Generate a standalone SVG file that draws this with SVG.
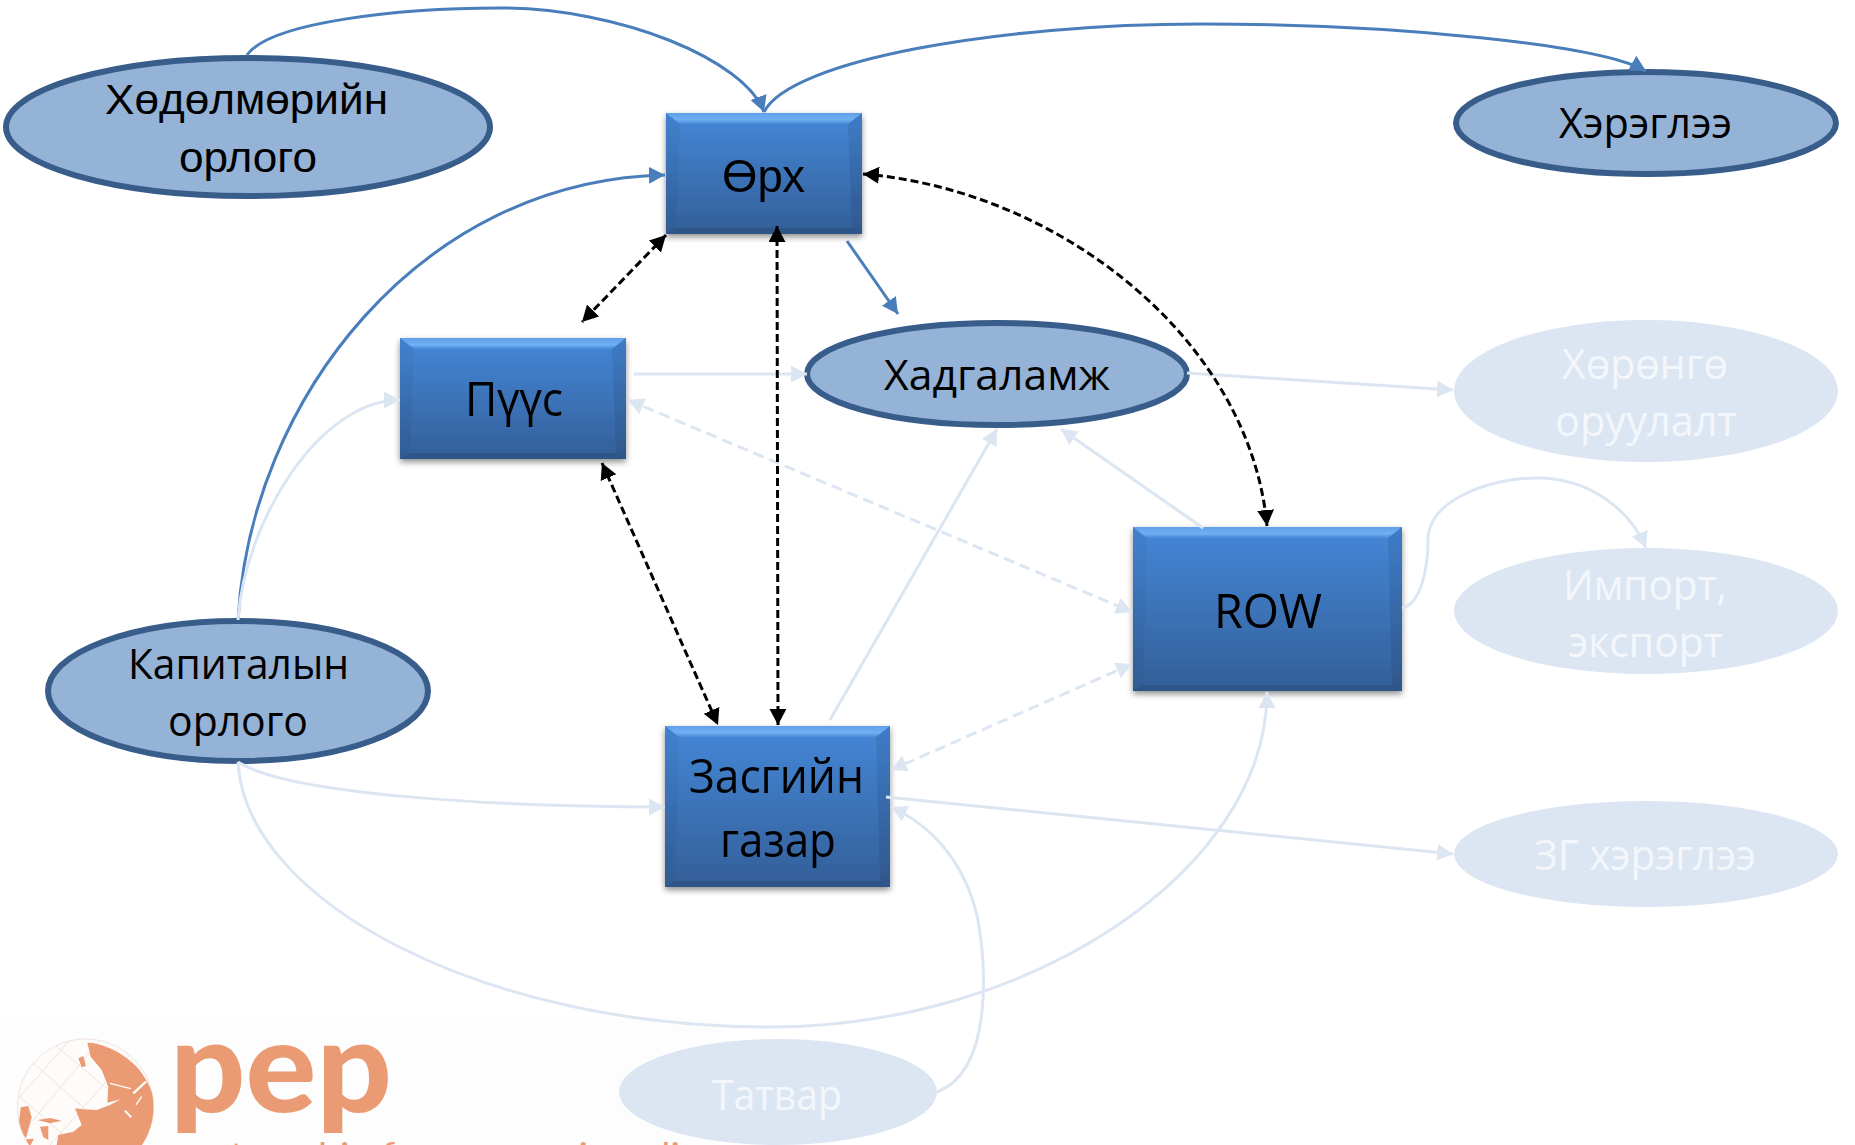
<svg xmlns="http://www.w3.org/2000/svg" width="1855" height="1145" viewBox="0 0 1855 1145">
<style>
.t{font-family:"Open Sans","Noto Sans",sans-serif;font-size:42px;fill:#000}
.b{font-size:47px}
.a{font-family:"Liberation Sans",Arial,sans-serif}
.p{fill:#F3F6FB}
.e{fill:#95B3D7;stroke:#385D8A;stroke-width:6}
.f{fill:#DCE6F2}
.top{fill:url(#gt)}
.bot{fill:#2E5587}
.l{fill:#000;fill-opacity:.04}
.r{fill:#000;fill-opacity:.08}
.d{stroke-dasharray:11 6}
</style>
<defs>
<linearGradient id="g" x1="0" y1="0" x2="0" y2="1"><stop offset="0" stop-color="#4587D8"/><stop offset="1" stop-color="#335F98"/></linearGradient>
<linearGradient id="gt" x1="0" y1="0" x2="0" y2="1"><stop offset="0" stop-color="#5FA0EA"/><stop offset=".6" stop-color="#6FB0F2"/><stop offset="1" stop-color="#4889DB"/></linearGradient>
<filter id="s" x="-10%" y="-10%" width="120%" height="125%"><feDropShadow dx="0" dy="3" stdDeviation="3" flood-color="#000" flood-opacity=".45"/></filter>
<marker id="mb" markerUnits="userSpaceOnUse" markerWidth="18" markerHeight="18" refX="16" refY="8.500" orient="auto-start-reverse"><path d="M0,0L16,8.500L0,17Z" fill="#4A7EBB"/></marker>
<marker id="mp" markerUnits="userSpaceOnUse" markerWidth="18" markerHeight="18" refX="16" refY="8.500" orient="auto-start-reverse"><path d="M0,0L16,8.500L0,17Z" fill="#DCE6F2"/></marker>
<marker id="mk" markerUnits="userSpaceOnUse" markerWidth="18" markerHeight="18" refX="16" refY="8.500" orient="auto-start-reverse"><path d="M0,0L16,8.500L0,17Z" fill="#000"/></marker>
<clipPath id="gc"><circle cx="85.500" cy="1107" r="68"/></clipPath>
</defs>
<rect width="1855" height="1145" fill="#fff"/>
<g id="logo">
<rect x="0" y="1018" width="720" height="127" fill="#FDFDFD"/>
<circle cx="85.500" cy="1107" r="68" fill="#FEFCFB" stroke="#EFE3DC" stroke-width="1"/>
<g clip-path="url(#gc)">
<path d="M30,1060L120,1140M55,1045L150,1125M18,1095L75,1145M100,1040L25,1130M130,1055L50,1145M70,1040L17,1100" stroke="#EDE3DD" fill="none"/>
<g fill="#EB9B74" transform="translate(0,1030) scale(.3333)">
<path d="M262,38C300,38 360,60 410,110C440,145 458,180 465,225L465,345L170,345L175,315L220,305L245,285L225,235L250,238L290,240L330,225L362,208L322,218L325,170L305,120L272,80Z"/>
<path d="M235,85L250,78L258,108L245,112Z"/>
<path d="M62,232L85,228L95,262L78,325L55,295Z"/>
<path d="M120,290L145,288L145,330L130,322Z"/>
<path d="M78,328L102,326L92,345L80,345Z"/>
<path d="M112,270L150,264L185,272L150,280Z"/>
</g>
<g stroke="#FEFCFB" fill="none" transform="translate(0,1030) scale(.3333)">
<path d="M330,160L392,176" stroke-width="4"/>
<path d="M400,190L438,155" stroke-width="7"/>
<path d="M408,225L425,200" stroke-width="4"/>
<path d="M375,242L394,262" stroke-width="6"/>
</g>
</g>
<text x="170" y="1112" font-family="Lato,'Open Sans',sans-serif" font-weight="900" font-size="128" fill="#EB9B74" textLength="222" lengthAdjust="spacingAndGlyphs">pep</text>
<text x="174" y="1166" font-family="Lato,'Open Sans',sans-serif" font-size="33" fill="#EB9B74" textLength="545" lengthAdjust="spacingAndGlyphs">partnership for economic policy</text>
</g>
<g id="n-household" filter="url(#s)"><rect x="666" y="113" width="196" height="121" fill="url(#g)"/><path class="top" d="M666,113H862L848,124H680Z"/><path class="bot" d="M666,234H862L852,228H676Z"/><path class="l" d="M666,113L680,124L676,228L666,234Z"/><path class="r" d="M862,113L848,124L852,228L862,234Z"/>
<text class="t a b" x="722" y="192" textLength="83" lengthAdjust="spacingAndGlyphs">Өрх</text></g>
<g id="n-firm" filter="url(#s)"><rect x="400" y="338" width="226" height="121" fill="url(#g)"/><path class="top" d="M400,338H626L612,349H414Z"/><path class="bot" d="M400,459H626L616,453H410Z"/><path class="l" d="M400,338L414,349L410,453L400,459Z"/><path class="r" d="M626,338L612,349L616,453L626,459Z"/>
<text class="t b" x="465" y="416" textLength="98" lengthAdjust="spacingAndGlyphs">Пүүс</text></g>
<g id="n-row" filter="url(#s)"><rect x="1133" y="527" width="269" height="164" fill="url(#g)"/><path class="top" d="M1133,527H1402L1388,538H1147Z"/><path class="bot" d="M1133,691H1402L1392,685H1143Z"/><path class="l" d="M1133,527L1147,538L1143,685L1133,691Z"/><path class="r" d="M1402,527L1388,538L1392,685L1402,691Z"/>
<text class="t b" x="1214" y="628" textLength="108" lengthAdjust="spacingAndGlyphs">ROW</text></g>
<g id="n-gov" filter="url(#s)"><rect x="665" y="726" width="225" height="161" fill="url(#g)"/><path class="top" d="M665,726H890L876,737H679Z"/><path class="bot" d="M665,887H890L880,881H675Z"/><path class="l" d="M665,726L679,737L675,881L665,887Z"/><path class="r" d="M890,726L876,737L880,881L890,887Z"/>
<text class="t b" x="689" y="793" textLength="175" lengthAdjust="spacingAndGlyphs">Засгийн</text><text class="t b" x="720" y="857" textLength="116" lengthAdjust="spacingAndGlyphs">газар</text></g>
<g id="n-labor"><ellipse class="e" cx="248" cy="127" rx="242" ry="69"/><text class="t a" x="105" y="114" textLength="283" lengthAdjust="spacingAndGlyphs">Хөдөлмөрийн</text><text class="t a" x="179" y="172" textLength="138" lengthAdjust="spacingAndGlyphs">орлого</text></g>
<g id="n-cons"><ellipse class="e" cx="1646" cy="123" rx="190" ry="51"/><text class="t" x="1559" y="138" textLength="173" lengthAdjust="spacingAndGlyphs">Хэрэглээ</text></g>
<g id="n-save"><ellipse class="e" cx="997" cy="374" rx="190" ry="51"/><text class="t" x="884" y="390" textLength="226" lengthAdjust="spacingAndGlyphs">Хадгаламж</text></g>
<g id="n-cap"><ellipse class="e" cx="238" cy="691" rx="190" ry="70"/><text class="t" x="128" y="679" textLength="221" lengthAdjust="spacingAndGlyphs">Капиталын</text><text class="t" x="168" y="736" textLength="140" lengthAdjust="spacingAndGlyphs">орлого</text></g>
<g id="n-inv"><ellipse class="f" cx="1646" cy="391" rx="192" ry="71"/><text class="t p" x="1562" y="379" textLength="166" lengthAdjust="spacingAndGlyphs">Хөрөнгө</text><text class="t p" x="1555" y="436" textLength="182" lengthAdjust="spacingAndGlyphs">оруулалт</text></g>
<g id="n-trade"><ellipse class="f" cx="1646" cy="611" rx="192" ry="63"/><text class="t p" x="1563" y="600" textLength="164" lengthAdjust="spacingAndGlyphs">Импорт,</text><text class="t p" x="1568" y="657" textLength="155" lengthAdjust="spacingAndGlyphs">экспорт</text></g>
<g id="n-gcons"><ellipse class="f" cx="1646" cy="854" rx="192" ry="53"/><text class="t p" x="1534" y="870" textLength="222" lengthAdjust="spacingAndGlyphs">ЗГ хэрэглээ</text></g>
<g id="n-tax"><ellipse class="f" cx="778" cy="1092" rx="159" ry="53"/><text class="t p" x="712" y="1110" textLength="130" lengthAdjust="spacingAndGlyphs">Татвар</text></g>
<g id="connectors">
<g stroke="#4A7EBB" fill="none" stroke-width="3">
<path marker-end="url(#mb)" d="M247,55C270,22 400,8 500,8C620,8 745,60 764,112"/>
<path marker-end="url(#mb)" d="M764,112C790,60 1000,24 1200,24C1400,24 1600,45 1646,71"/>
<path marker-end="url(#mb)" d="M238,620C250,400 420,180 665,175"/>
<path marker-end="url(#mb)" d="M847,241L898,314"/>
</g>
<g stroke="#DCE6F2" fill="none" stroke-width="3">
<path marker-end="url(#mp)" d="M238,620C245,520 320,400 400,400"/>
<path marker-end="url(#mp)" d="M634,374H807"/>
<path marker-end="url(#mp)" d="M1187,373L1453,390"/>
<path marker-end="url(#mp)" d="M1203,528L1061,429"/>
<path marker-end="url(#mp)" d="M830,720L997,429"/>
<path class="d" marker-start="url(#mp)" marker-end="url(#mp)" d="M628,400L1132,612"/>
<path class="d" marker-start="url(#mp)" marker-end="url(#mp)" d="M1132,664L891,770"/>
<path marker-end="url(#mp)" d="M886,797L1453,854"/>
<path marker-end="url(#mp)" d="M937,1092C995,1070 985,960 978,920C965,860 930,825 891,807"/>
<path marker-end="url(#mp)" d="M238,762C290,795 500,807 665,807"/>
<path marker-end="url(#mp)" d="M238,762C245,900 480,1027 770,1027C1030,1027 1267,870 1267,692"/>
<path marker-end="url(#mp)" d="M1402,608C1420,605 1428,570 1428,540C1428,500 1490,478 1537,478C1590,478 1630,510 1646,548"/>
</g>
<g stroke="#000" stroke-dasharray="8 4" fill="none" stroke-width="3">
<path marker-start="url(#mk)" marker-end="url(#mk)" d="M666,235L582,322"/>
<path marker-start="url(#mk)" marker-end="url(#mk)" d="M777,226L778,725"/>
<path marker-start="url(#mk)" marker-end="url(#mk)" d="M602,463L718,725"/>
<path marker-start="url(#mk)" marker-end="url(#mk)" d="M863,174C1060,190 1250,340 1267,526"/>
</g>
</g>
</svg>
